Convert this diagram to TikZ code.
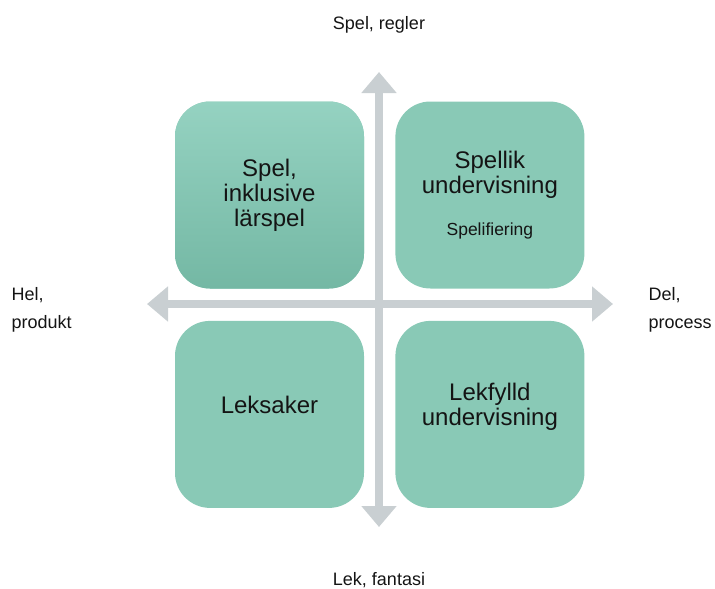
\documentclass[tikz,border=0pt]{standalone}
\usepackage{fontspec}
\setmainfont{Liberation Sans}
\usetikzlibrary{positioning,arrows.meta}
\definecolor{colortext}   {RGB}{20 ,20 ,20 }
\definecolor{colorbox}    {RGB}{137,201,182}
\definecolor{colorboxtop} {RGB}{149,210,193}
\definecolor{colorboxbot} {RGB}{116,184,164}
\definecolor{coloraxis}   {RGB}{201,207,210}

\begin{document}
\begin{tikzpicture}[
    x=1pt, y=-1pt,
    node distance = 32pt and 31pt,
    box/.style={fill=colorbox,rounded corners=35pt,minimum width=189pt,minimum height=187pt,
                inner sep=0pt,text=colortext,align=center,font={\fontsize{24}{25}\selectfont}},
    axisarrow/.style={draw=coloraxis,line width=8pt,
                {Triangle[width=34pt,length=21pt]}-{Triangle[width=34pt,length=21pt]}},
    txt/.style={text=colortext,font={\fontsize{18}{28}\selectfont},align=left},
]
    \useasboundingbox (0,0) rectangle (715,589);

    % axes
    \coordinate (up)    at (379,72);
    \coordinate (down)  at (379,527);
    \coordinate (left)  at (147,304);
    \coordinate (right) at (613,304);
    \draw[axisarrow] (down) -- (up);
    \draw[axisarrow] (left) -- (right);

    % quadrants
    \node[box,top color=colorboxtop,bottom color=colorboxbot] at (269.5,195) (games) {Spel,\\inklusive\\lärspel};
    \node[box,right=of games] (gamelike) {Spellik\\undervisning\\[17pt]{\fontsize{17.5}{19}\selectfont Spelifiering}};
    \node[box,below=of games,text depth=20pt]    (toys)    {Leksaker};
    \node[box,below=of gamelike,text depth=20pt] (playful) {Lekfylld\\undervisning};

    % axis labels
    \node[txt] (rules)   at (379,25)  {Spel, regler};
    \node[txt] (fantasy) at (379,580) {Lek, fantasi};
    \node[txt,anchor=west] (whole)   at (8,310)   {Hel,\\produkt};
    \node[txt,anchor=west] (process) at (645,310) {Del,\\process};

\end{tikzpicture}
\end{document}
